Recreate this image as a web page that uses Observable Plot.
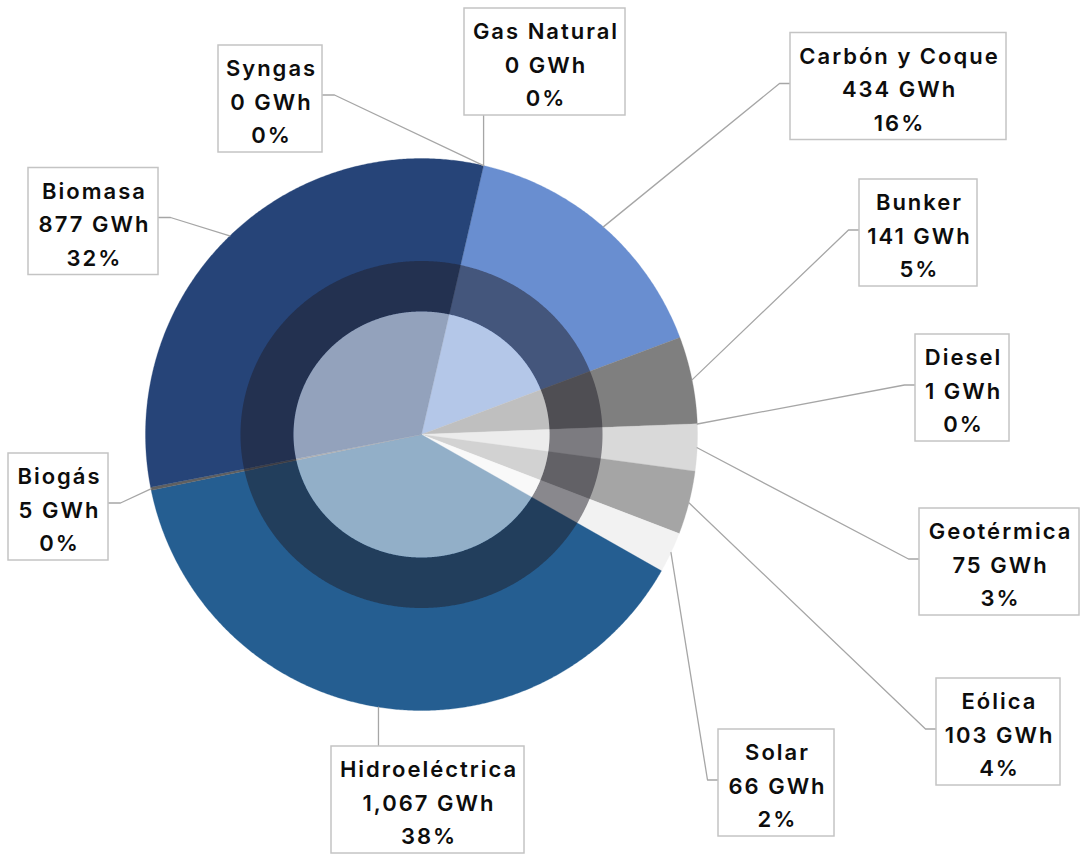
<!DOCTYPE html>
<html>
<head>
<meta charset="utf-8">
<script src="https://cdn.jsdelivr.net/npm/d3@7"></script>
<script src="https://cdn.jsdelivr.net/npm/@observablehq/plot@0.6"></script>
<style>
  html, body { margin: 0; padding: 0; background: #ffffff; }
  #chart { width: 1080px; height: 855px; }
  #chart svg text { letter-spacing: 2px; }
</style>
</head>
<body>
<div id="chart"></div>
<script>
// ---- data ----
const categories = ["Carbón y Coque", "Bunker", "Diesel", "Geotérmica", "Eólica", "Solar", "Hidroeléctrica", "Biogás", "Biomasa", "Syngas", "Gas Natural"];
const gwh = [434, 141, 1, 75, 103, 66, 1067, 5, 877, 0, 0];
const percentLabels = [16, 5, 0, 3, 4, 2, 38, 0, 32, 0, 0];
const colors = ["#698ed0", "#7f7f7f", "#bfbfbf", "#d9d9d9", "#a5a5a5", "#f2f2f2", "#255e91", "#606060", "#264478", "#9e480e", "#997300"];

// ---- layout (positions only) ----
const W = 1080, H = 855;
const center = {x: 421, y: 434};
const outerR = 276;
const ring = {rxOut: 181, ryOut: 173.5, rxIn: 128, ryIn: 123};
const startAngle = 13; // degrees clockwise from 12 o'clock
const boxH = 107;
const labelLayout = {
  "Carbón y Coque": {cx: 898, cy: 86, w: 216, side: "left"},
  "Bunker": {cx: 918, cy: 232.5, w: 118, side: "left"},
  "Diesel": {cx: 962, cy: 387.5, w: 94, side: "left"},
  "Geotérmica": {cx: 999, cy: 561.5, w: 160, side: "left"},
  "Eólica": {cx: 998, cy: 731.5, w: 124, side: "left"},
  "Solar": {cx: 776, cy: 782.5, w: 116, side: "left"},
  "Hidroeléctrica": {cx: 427.5, cy: 799.5, w: 193, side: "top"},
  "Biogás": {cx: 58, cy: 506.5, w: 100, side: "right"},
  "Biomasa": {cx: 93, cy: 221, w: 130, side: "right"},
  "Syngas": {cx: 270, cy: 98.5, w: 104, side: "right"},
  "Gas Natural": {cx: 544.5, cy: 61.5, w: 161, side: "bottom"}
};

// ---- geometry derived from data ----
const total = d3.sum(gwh);
const rad = Math.PI / 180;
const pt = (rx, a, ry = rx) => ({x: center.x + rx * Math.sin(a * rad), y: center.y - ry * Math.cos(a * rad)});
function arc(rx, a0, a1, ry = rx) {
  const n = Math.max(2, Math.ceil(Math.abs(a1 - a0) / 0.4));
  return d3.range(n + 1).map(i => pt(rx, a0 + (a1 - a0) * i / n, ry));
}
let acc = 0;
const slices = categories.map((name, i) => {
  const a0 = startAngle + acc / total * 360;
  acc += gwh[i];
  const a1 = startAngle + acc / total * 360;
  return {name, value: gwh[i], pct: percentLabels[i], color: colors[i], a0, a1, mid: (a0 + a1) / 2};
});

const fmt = d3.format(",");
const labels = slices.map(s => {
  const L = labelLayout[s.name];
  return {
    ...s,
    cx: L.cx, cy: L.cy,
    x1: L.cx - L.w / 2, x2: L.cx + L.w / 2,
    y1: L.cy - boxH / 2, y2: L.cy + boxH / 2,
    side: L.side,
    text: `${s.name}\n${fmt(s.value)} GWh\n${s.pct}%`
  };
});

// leader lines
const leaders = [];
labels.forEach(l => {
  const a = pt(outerR, l.mid);
  let pts;
  if (l.side === "left") {
    const ey = l.cy - 3;
    pts = [a, {x: l.x1 - 11, y: ey}, {x: l.x1, y: ey}];
  } else if (l.side === "right") {
    const ey = l.cy - 4;
    pts = [a, {x: l.x2 + 12, y: ey}, {x: l.x2, y: ey}];
  } else if (l.side === "top") {
    pts = [a, {x: a.x, y: l.y1}];
  } else {
    pts = [a, {x: a.x, y: l.y2}];
  }
  pts.forEach(p => leaders.push({k: l.name, x: p.x, y: p.y}));
});

const sliceMarks = slices.filter(s => s.value > 0).map(s =>
  Plot.line([center, ...arc(outerR, s.a0, s.a1), center], {x: "x", y: "y", fill: s.color, stroke: s.color, strokeWidth: 0.3, curve: "linear"})
);
const ringPts = [...arc(ring.rxOut, 0, 360, ring.ryOut), ...arc(ring.rxIn, 360, 0, ring.ryIn)];
const discPts = arc(ring.rxIn, 0, 360, ring.ryIn);

const chart = Plot.plot({
  width: W, height: H,
  margin: 0,
  x: {domain: [0, W], range: [0, W], axis: null},
  y: {domain: [0, H], range: [0, H], axis: null},
  style: {background: "#ffffff", fontFamily: "Inter, 'Open Sans', sans-serif"},
  marks: [
    ...sliceMarks,
    Plot.line(ringPts, {x: "x", y: "y", fill: "#201e28", fillOpacity: 0.5, stroke: "none"}),
    Plot.line(discPts, {x: "x", y: "y", fill: "#ffffff", fillOpacity: 0.5, stroke: "none"}),
    Plot.line(leaders, {x: "x", y: "y", z: "k", stroke: "#a6a6a6", strokeWidth: 1.3, curve: "linear"}),
    Plot.rect(labels, {x1: "x1", x2: "x2", y1: "y1", y2: "y2", fill: "#ffffff", stroke: "#c4c4c4", strokeWidth: 1.5}),
    Plot.text(labels, {x: "cx", y: "cy", dx: 1, text: "text", fontSize: 22, fontWeight: 600, lineHeight: 1.52, fill: "#0d0d0d", fontFamily: "Inter, 'Open Sans', sans-serif"})
  ]
});
document.getElementById("chart").appendChild(chart);
</script>
</body>
</html>
